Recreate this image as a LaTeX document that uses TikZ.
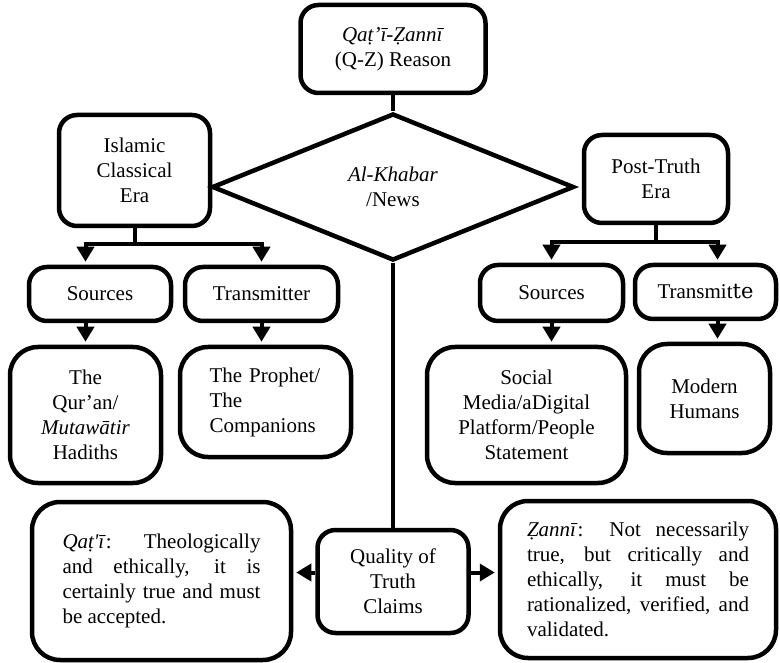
\documentclass[tikz,border=0pt]{standalone}
\usepackage{fontspec}
\setmainfont{Liberation Serif}
\newfontfamily\altserif{DejaVu Serif}
\usetikzlibrary{shapes.geometric, arrows.meta, positioning, calc}

\begin{document}
\begin{tikzpicture}[x=1pt, y=-1pt,
    font=\fontsize{21}{25}\selectfont,
    box/.style={draw, line width=4.5pt, rounded corners=18pt, align=center, inner sep=2pt},
    bigbox/.style={box, rounded corners=28pt},
    link/.style={line width=4pt},
    arr/.style={link, shorten >=3pt, -{Triangle[width=17pt, length=15pt]}}]
    \useasboundingbox (0,0) rectangle (780,663);

    % Reason and the news diamond
    \node[box, minimum width=185pt, minimum height=88pt] (reason) at (393,49) {\textit{Qaṭ’ī-Ẓannī}\\(Q-Z) Reason};
    \node[diamond, draw, line width=4.5pt, inner sep=0pt, minimum width=362pt, minimum height=147pt, align=center] (news) at (393,187) {\textit{Al-Khabar}\\/News};

    % The two eras
    \node[box, minimum width=151pt, minimum height=111pt] (isl) at (134.5,170.5) {Islamic\\Classical\\Era};
    \node[box, minimum width=144pt, minimum height=88pt] (post) at (656,179) {Post-Truth\\Era};

    % Sources and transmitters
    \node[box, minimum width=142pt, minimum height=54pt] (srcl) at (100,294) {Sources};
    \node[box, minimum width=153pt, minimum height=54pt] (trl) at (261.5,294) {Transmitter};
    \node[box, minimum width=143pt, minimum height=56pt] (srcr) at (551.5,293) {Sources};
    \node[box, minimum width=141pt, minimum height=54pt] (trr) at (705.5,292) {Transmit{\altserif te}};

    \node[bigbox, minimum width=151pt, minimum height=136pt] (qur) at (85.5,415) {The\\Qur’an/\\\textit{Mutawātir}\\Hadiths};
    \node[bigbox, minimum width=171pt, minimum height=110pt, text width=112pt, align=left] (pro) at (265.5,402) {The Prophet/\\The\\Companions};
    \node[bigbox, minimum width=199pt, minimum height=136pt] (soc) at (526.5,415) {Social\\Media/aDigital\\Platform/People\\Statement};
    \node[bigbox, minimum width=131pt, minimum height=109pt] (mod) at (704.5,398.5) {Modern\\Humans};

    % Quality of truth claims
    \node[box, minimum width=151pt, minimum height=103pt] (qual) at (393,581.5) {Quality of\\Truth\\Claims};
    \node[bigbox, minimum width=259pt, minimum height=158pt, text width=198pt, align=justify] (qati) at (161.5,581) {\textit{Qaṭ\textquotesingle ī}: Theologically\linebreak and ethically, it is\linebreak certainly true and must\linebreak be accepted.};
    \node[bigbox, minimum width=276pt, minimum height=157pt, text width=222pt, align=justify] (zan) at (638,579.5) {\textit{Ẓannī}: Not necessarily\linebreak true, but critically and\linebreak ethically, it must be\linebreak rationalized, verified, and\linebreak validated.};

    % Connectors
    \draw[link] (reason.south) -- (news.north);
    \draw[link] (news.south) -- (qual.north);

    \draw[link] (isl.south) -- ++(0,16) coordinate (islfork);
    \draw[arr] (islfork) -| (srcl.north -| qur.north);
    \draw[arr] (islfork) -| (trl.north);
    \draw[arr] (srcl.south -| qur.north) -- (qur.north);
    \draw[arr] (trl.south) -- (trl.south |- pro.north);

    \draw[link] (post.south) -- ++(0,17) coordinate (postfork);
    \draw[arr] (postfork) -| (srcr.north);
    \draw[arr] (postfork) -| ([xshift=12pt]trr.north);
    \draw[arr] (srcr.south) -- (srcr.south |- soc.north);
    \draw[arr] ([xshift=12pt]trr.south) -- ([xshift=12pt]trr.south |- mod.north);

    \draw[arr] ([yshift=9pt]qual.west) -- ([yshift=9pt]qual.west -| qati.east);
    \draw[arr] ([yshift=9pt]qual.east) -- ([yshift=9pt]qual.east -| zan.west);
\end{tikzpicture}
\end{document}
